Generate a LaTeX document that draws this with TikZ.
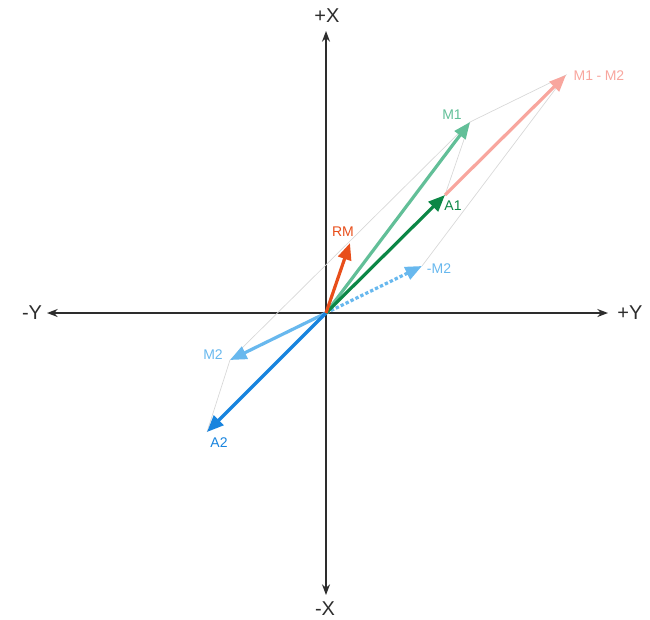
\documentclass[tikz,border=0pt]{standalone}
\usepackage{fontspec}
\setmainfont{Liberation Sans}
\usetikzlibrary{arrows.meta,positioning}
\definecolor{axisgrey}{RGB}{45,45,45}
\definecolor{guidegrey}{RGB}{215,215,215}
\definecolor{mgreen}{RGB}{98,191,152}
\definecolor{agreen}{RGB}{12,135,70}
\definecolor{diffpink}{RGB}{248,166,158}
\definecolor{rmorange}{RGB}{232,78,26}
\definecolor{mblue}{RGB}{104,184,238}
\definecolor{ablue}{RGB}{24,132,222}

\begin{document}
\begin{tikzpicture}[
    x=0.75pt,
    y=-0.75pt,
    >=Stealth
]

\tikzset{
    axis/.style={
        draw=axisgrey,
        line width=1.1pt,
        -{Stealth[length=8pt,width=6pt]}
    },
    vec/.style={
        line width=2.4pt,
        -{Triangle[length=12.5pt,width=10pt]}
    },
    guide/.style={
        draw=guidegrey,
        line width=0.5pt
    },
    axlab/.style={
        inner sep=0pt,
        text=axisgrey,
        font=\fontsize{15}{17}\selectfont
    },
    veclab/.style={
        inner sep=0pt,
        font=\fontsize{10.5}{12}\selectfont
    }
}

\useasboundingbox (0,0) rectangle (650,619);

% axes
\coordinate (O) at (326,313);
\coordinate (xpos) at (326,31);
\coordinate (xneg) at (326,595);
\coordinate (ypos) at (608,313);
\coordinate (yneg) at (47,313);

\draw[axis] (O)--(xpos);
\draw[axis] (O)--(xneg);
\draw[axis] (O)--(ypos);
\draw[axis] (O)--(yneg);

\node[axlab] (lxpos) at (327,16) {+X};
\node[axlab] (lxneg) at (325,609) {-X};
\node[axlab] (lypos) at (630,313) {+Y};
\node[axlab] (lyneg) at (32,313) {-Y};

% vector tips
\coordinate (m1) at (470,122);
\coordinate (m2) at (230,360);
\coordinate (negm2) at (422,266);
\coordinate (diff) at (566,75);
\coordinate (a1) at (445,195);
\coordinate (a2) at (207,432);
\coordinate (rm) at (350,243);

% construction lines
\draw[guide] (m1)--(diff)--(negm2);
\draw[guide] (m1)--(a1);
\draw[guide] (m2)--(m1);
\draw[guide] (m2)--(a2);

% vectors
\draw[vec,mblue] (O)--(m2);
\draw[vec,ablue] (O)--(a2);
\draw[vec,mblue,dash pattern=on 2.5pt off 1.6pt] (O)--(negm2);
\draw[vec,mgreen] (O)--(m1);
\draw[vec,diffpink] (a1)--(diff);
\draw[vec,agreen] (O)--(a1);
\draw[vec,rmorange] (O)--(rm);

% labels
\node[veclab,text=mgreen] (lm1) at (452,115) {M1};
\node[veclab,text=agreen] (la1) at (453,206) {A1};
\node[veclab,text=diffpink] (ldiff) at (599,76) {M1\hspace{0.25em}-\hspace{0.25em}M2};
\node[veclab,text=rmorange] (lrm) at (343,232) {RM};
\node[veclab,text=mblue] (lnegm2) at (439,269) {-M2};
\node[veclab,text=mblue] (lm2) at (213,355) {M2};
\node[veclab,text=ablue] (la2) at (219,443) {A2};

\end{tikzpicture}
\end{document}
